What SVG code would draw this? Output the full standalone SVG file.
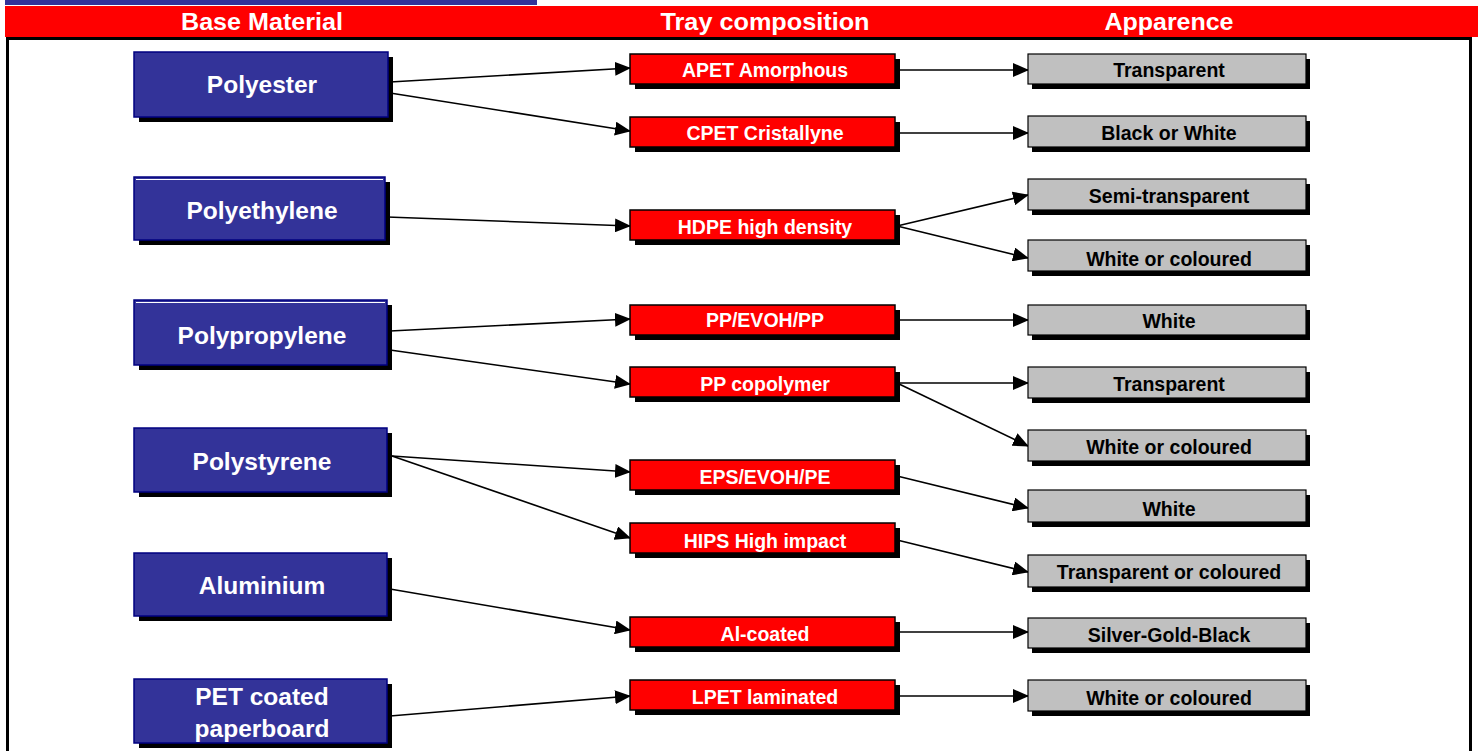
<svg xmlns="http://www.w3.org/2000/svg" width="1478" height="751" viewBox="0 0 1478 751">
<defs>
<style>
.hdr{font-family:"Liberation Sans",Arial,sans-serif;font-weight:bold;font-size:24px;fill:#fff;text-anchor:middle}
.bt{font-family:"Liberation Sans",Arial,sans-serif;font-weight:bold;font-size:24.5px;fill:#fff;text-anchor:middle;dominant-baseline:central}
.rt{font-family:"Liberation Sans",Arial,sans-serif;font-weight:bold;font-size:19.5px;fill:#fff;text-anchor:middle;dominant-baseline:central}
.gt{font-family:"Liberation Sans",Arial,sans-serif;font-weight:bold;font-size:19.5px;fill:#000;text-anchor:middle;dominant-baseline:central}
.blue{fill:#333399;stroke:#000080;stroke-width:1.5}
.red{fill:#ff0000;stroke:#000;stroke-width:1.5}
.gray{fill:#c0c0c0;stroke:#000;stroke-width:1.2}
.sh{fill:#000}
.hl{stroke:#fff;stroke-width:1}
.c{stroke:#000;stroke-width:1.6;fill:none;marker-end:url(#ah)}
</style>
<marker id="ah" markerUnits="userSpaceOnUse" markerWidth="16" markerHeight="14" refX="15" refY="7" orient="auto">
<path d="M0,0 L16,7 L0,14 Z" fill="#000"/>
</marker>
</defs>
<rect width="1478" height="751" fill="#fff"/>
<rect x="5" y="0" width="532" height="5" fill="#333399"/>
<rect x="5" y="6" width="1473" height="31" fill="#ff0000"/>
<text class="hdr" x="262" y="30" textLength="162" lengthAdjust="spacingAndGlyphs">Base Material</text>
<text class="hdr" x="765" y="30" textLength="209" lengthAdjust="spacingAndGlyphs">Tray composition</text>
<text class="hdr" x="1169" y="30" textLength="129" lengthAdjust="spacingAndGlyphs">Apparence</text>
<rect x="7.5" y="38.5" width="1463" height="720" fill="none" stroke="#000" stroke-width="3"/>

<g id="connectors">
<line class="c" x1="390" y1="82" x2="630" y2="68"/>
<line class="c" x1="390" y1="93" x2="630" y2="131"/>
<line class="c" x1="897" y1="70" x2="1028" y2="70"/>
<line class="c" x1="897" y1="133" x2="1028" y2="133"/>
<line class="c" x1="387" y1="217" x2="630" y2="226"/>
<line class="c" x1="897" y1="226" x2="1028" y2="195"/>
<line class="c" x1="897" y1="226" x2="1028" y2="258"/>
<line class="c" x1="390" y1="331" x2="630" y2="319"/>
<line class="c" x1="390" y1="350" x2="630" y2="384"/>
<line class="c" x1="897" y1="320" x2="1028" y2="320"/>
<line class="c" x1="897" y1="383" x2="1028" y2="383"/>
<line class="c" x1="897" y1="383" x2="1028" y2="446"/>
<line class="c" x1="392" y1="456" x2="630" y2="472"/>
<line class="c" x1="392" y1="456" x2="630" y2="538"/>
<line class="c" x1="897" y1="476" x2="1028" y2="508"/>
<line class="c" x1="897" y1="540" x2="1028" y2="572"/>
<line class="c" x1="390" y1="589" x2="630" y2="630"/>
<line class="c" x1="897" y1="632" x2="1028" y2="632"/>
<line class="c" x1="390" y1="716" x2="630" y2="696"/>
<line class="c" x1="897" y1="696" x2="1028" y2="696"/>
</g>

<g id="polyester"><rect class="sh" x="139" y="57" width="254" height="65"/><rect class="blue" x="134" y="52" width="254" height="65"/><text class="bt" x="262" y="84">Polyester</text></g>
<g id="polyethylene"><rect class="sh" x="139" y="182" width="251" height="63"/><rect class="blue" x="134" y="177" width="251" height="63"/><line class="hl" x1="136" y1="179.5" x2="383" y2="179.5"/><text class="bt" x="262" y="210">Polyethylene</text></g>
<g id="polypropylene"><rect class="sh" x="139" y="305" width="253" height="65"/><rect class="blue" x="134" y="300" width="253" height="65"/><line class="hl" x1="136" y1="302.5" x2="385" y2="302.5"/><text class="bt" x="262" y="335">Polypropylene</text></g>
<g id="polystyrene"><rect class="sh" x="139" y="433" width="253" height="64"/><rect class="blue" x="134" y="428" width="253" height="64"/><text class="bt" x="262" y="461">Polystyrene</text></g>
<g id="aluminium"><rect class="sh" x="139" y="558" width="253" height="63"/><rect class="blue" x="134" y="553" width="253" height="63"/><text class="bt" x="262" y="585">Aluminium</text></g>
<g id="pet-paperboard"><rect class="sh" x="139" y="684" width="253" height="64"/><rect class="blue" x="134" y="679" width="253" height="64"/><text class="bt" x="262" y="696">PET coated</text><text class="bt" x="262" y="728">paperboard</text></g>

<g id="apet"><rect class="sh" x="635" y="59" width="265" height="30"/><rect class="red" x="630" y="54" width="265" height="30"/><text class="rt" x="765" y="70">APET Amorphous</text></g>
<g id="cpet"><rect class="sh" x="635" y="122" width="265" height="30"/><rect class="red" x="630" y="117" width="265" height="30"/><text class="rt" x="765" y="133">CPET Cristallyne</text></g>
<g id="hdpe"><rect class="sh" x="635" y="215" width="265" height="30"/><rect class="red" x="630" y="210" width="265" height="30"/><text class="rt" x="765" y="227">HDPE high density</text></g>
<g id="ppevohpp"><rect class="sh" x="635" y="310" width="265" height="30"/><rect class="red" x="630" y="305" width="265" height="30"/><text class="rt" x="765" y="320">PP/EVOH/PP</text></g>
<g id="ppcopolymer"><rect class="sh" x="635" y="372" width="265" height="30"/><rect class="red" x="630" y="367" width="265" height="30"/><text class="rt" x="765" y="384">PP copolymer</text></g>
<g id="epsevohpe"><rect class="sh" x="635" y="465" width="265" height="30"/><rect class="red" x="630" y="460" width="265" height="30"/><text class="rt" x="765" y="477">EPS/EVOH/PE</text></g>
<g id="hips"><rect class="sh" x="635" y="528" width="265" height="30"/><rect class="red" x="630" y="523" width="265" height="30"/><text class="rt" x="765" y="541">HIPS High impact</text></g>
<g id="alcoated"><rect class="sh" x="635" y="622" width="265" height="30"/><rect class="red" x="630" y="617" width="265" height="30"/><text class="rt" x="765" y="634">Al-coated</text></g>
<g id="lpet"><rect class="sh" x="635" y="685" width="265" height="30"/><rect class="red" x="630" y="680" width="265" height="30"/><text class="rt" x="765" y="697">LPET laminated</text></g>

<g id="g-transparent1"><rect class="sh" x="1032" y="59" width="278" height="30"/><rect class="gray" x="1028" y="54" width="278" height="30"/><text class="gt" x="1169" y="70">Transparent</text></g>
<g id="g-blackwhite"><rect class="sh" x="1032" y="121" width="278" height="31"/><rect class="gray" x="1028" y="116" width="278" height="31"/><text class="gt" x="1169" y="133">Black or White</text></g>
<g id="g-semi"><rect class="sh" x="1032" y="184" width="278" height="31"/><rect class="gray" x="1028" y="179" width="278" height="31"/><text class="gt" x="1169" y="196">Semi-transparent</text></g>
<g id="g-whitecol1"><rect class="sh" x="1032" y="245" width="278" height="31"/><rect class="gray" x="1028" y="240" width="278" height="31"/><text class="gt" x="1169" y="259">White or coloured</text></g>
<g id="g-white1"><rect class="sh" x="1032" y="310" width="278" height="30"/><rect class="gray" x="1028" y="305" width="278" height="30"/><text class="gt" x="1169" y="321">White</text></g>
<g id="g-transparent2"><rect class="sh" x="1032" y="372" width="278" height="31"/><rect class="gray" x="1028" y="367" width="278" height="31"/><text class="gt" x="1169" y="384">Transparent</text></g>
<g id="g-whitecol2"><rect class="sh" x="1032" y="435" width="278" height="31"/><rect class="gray" x="1028" y="430" width="278" height="31"/><text class="gt" x="1169" y="447">White or coloured</text></g>
<g id="g-white2"><rect class="sh" x="1032" y="495" width="278" height="32"/><rect class="gray" x="1028" y="490" width="278" height="32"/><text class="gt" x="1169" y="509">White</text></g>
<g id="g-transcol"><rect class="sh" x="1032" y="560" width="278" height="32"/><rect class="gray" x="1028" y="555" width="278" height="32"/><text class="gt" x="1169" y="572">Transparent or coloured</text></g>
<g id="g-silver"><rect class="sh" x="1032" y="623" width="278" height="30"/><rect class="gray" x="1028" y="618" width="278" height="30"/><text class="gt" x="1169" y="635">Silver-Gold-Black</text></g>
<g id="g-whitecol3"><rect class="sh" x="1032" y="685" width="278" height="31"/><rect class="gray" x="1028" y="680" width="278" height="31"/><text class="gt" x="1169" y="698">White or coloured</text></g>
</svg>
